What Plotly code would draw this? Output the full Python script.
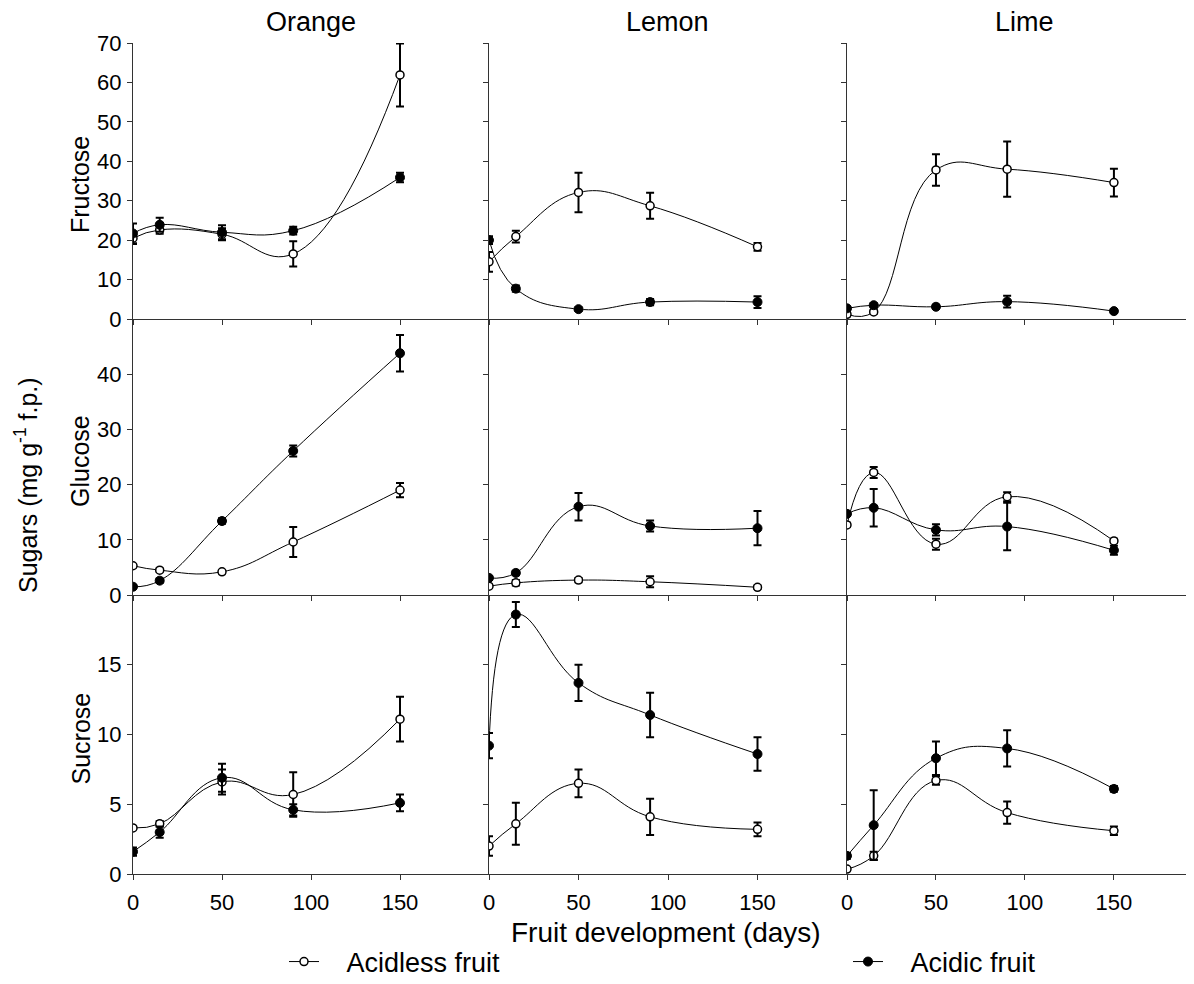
import plotly.graph_objects as go

# ---------------- data ----------------
days = [0, 15, 50, 90, 150]
fruits = ["Orange", "Lemon", "Lime"]
sugars = ["Fructose", "Glucose", "Sucrose"]

# Fructose
fru_orange_acidless = [20.5, 22.6, 21.5, 16.5, 61.9]
fru_orange_acidless_err = [1.5, 1.0, 1.5, 3.2, 8.0]
fru_orange_acidic = [21.7, 23.9, 22.0, 22.4, 35.9]
fru_orange_acidic_err = [2.5, 1.8, 1.8, 1.0, 1.2]
fru_lemon_acidless = [14.5, 20.9, 32.1, 28.7, 18.3]
fru_lemon_acidless_err = [2.5, 1.5, 5.0, 3.3, 1.0]
fru_lemon_acidic = [20.0, 7.7, 2.5, 4.3, 4.3]
fru_lemon_acidic_err = [1.0, 0.8, 0.4, 0.8, 1.5]
fru_lime_acidless = [1.2, 1.8, 37.8, 38.0, 34.6]
fru_lime_acidless_err = [0.5, 0.5, 4.0, 7.0, 3.5]
fru_lime_acidic = [2.7, 3.5, 3.1, 4.4, 2.0]
fru_lime_acidic_err = [0.5, 0.5, 0.5, 1.5, 0.4]

# Glucose
glu_orange_acidless = [5.3, 4.5, 4.2, 9.6, 19.0]
glu_orange_acidless_err = [0.3, 0.3, 0.3, 2.7, 1.3]
glu_orange_acidic = [1.5, 2.6, 13.4, 26.1, 43.8]
glu_orange_acidic_err = [0.3, 0.4, 0.5, 1.0, 3.3]
glu_lemon_acidless = [1.6, 2.2, 2.7, 2.4, 1.4]
glu_lemon_acidless_err = [0.3, 0.5, 0.4, 1.0, 0.3]
glu_lemon_acidic = [3.1, 4.0, 16.0, 12.5, 12.1]
glu_lemon_acidic_err = [0.3, 0.4, 2.5, 1.0, 3.1]
glu_lime_acidless = [12.7, 22.2, 9.2, 17.8, 9.8]
glu_lime_acidless_err = [0.4, 1.0, 1.0, 0.8, 0.4]
glu_lime_acidic = [14.7, 15.8, 11.8, 12.4, 8.1]
glu_lime_acidic_err = [0.4, 3.4, 1.0, 4.3, 0.8]

# Sucrose
suc_orange_acidless = [3.3, 3.6, 6.6, 5.7, 11.1]
suc_orange_acidless_err = [0.1, 0.2, 0.9, 1.6, 1.6]
suc_orange_acidic = [1.6, 3.0, 6.9, 4.6, 5.1]
suc_orange_acidic_err = [0.3, 0.4, 1.0, 0.4, 0.6]
suc_lemon_acidless = [2.0, 3.6, 6.5, 4.1, 3.2]
suc_lemon_acidless_err = [0.7, 1.5, 1.0, 1.3, 0.5]
suc_lemon_acidic = [9.2, 18.6, 13.7, 11.4, 8.6]
suc_lemon_acidic_err = [0.9, 0.9, 1.3, 1.6, 1.2]
suc_lime_acidless = [0.35, 1.3, 6.7, 4.4, 3.1]
suc_lime_acidless_err = [0.1, 0.3, 0.3, 0.8, 0.3]
suc_lime_acidic = [1.3, 3.5, 8.3, 9.0, 6.1]
suc_lime_acidic_err = [0.2, 2.5, 1.2, 1.3, 0.2]

x_ticks = [0, 50, 100, 150]
y_ticks = {"Fructose": [0, 10, 20, 30, 40, 50, 60, 70],
           "Glucose": [0, 10, 20, 30, 40],
           "Sucrose": [0, 5, 10, 15]}
y_ranges = {"Fructose": [0, 70], "Glucose": [0, 50], "Sucrose": [0, 20]}

series = {
    ("Fructose", "Orange"): (fru_orange_acidless, fru_orange_acidless_err, fru_orange_acidic, fru_orange_acidic_err),
    ("Fructose", "Lemon"): (fru_lemon_acidless, fru_lemon_acidless_err, fru_lemon_acidic, fru_lemon_acidic_err),
    ("Fructose", "Lime"): (fru_lime_acidless, fru_lime_acidless_err, fru_lime_acidic, fru_lime_acidic_err),
    ("Glucose", "Orange"): (glu_orange_acidless, glu_orange_acidless_err, glu_orange_acidic, glu_orange_acidic_err),
    ("Glucose", "Lemon"): (glu_lemon_acidless, glu_lemon_acidless_err, glu_lemon_acidic, glu_lemon_acidic_err),
    ("Glucose", "Lime"): (glu_lime_acidless, glu_lime_acidless_err, glu_lime_acidic, glu_lime_acidic_err),
    ("Sucrose", "Orange"): (suc_orange_acidless, suc_orange_acidless_err, suc_orange_acidic, suc_orange_acidic_err),
    ("Sucrose", "Lemon"): (suc_lemon_acidless, suc_lemon_acidless_err, suc_lemon_acidic, suc_lemon_acidic_err),
    ("Sucrose", "Lime"): (suc_lime_acidless, suc_lime_acidless_err, suc_lime_acidic, suc_lime_acidic_err),
}

# ---------------- layout geometry ----------------
OFF = 8                      # page body margin offset
W, H = 1194 - OFF, 984 - OFF  # figure size


def px(xp):  # page x pixel -> paper fraction
    return (xp - OFF) / W


def py(yp):  # page y pixel -> paper fraction
    return 1 - (yp - OFF) / H


col_px = [(133, 489), (489, 847), (847, 1194)]
col_xrange = [[0, 200], [0, 200], [0, 195]]
row_px = [(43, 319), (319, 595), (595, 874)]
FONT = "Liberation Sans, Arial, sans-serif"
AX = "#333333"
BIG = 27
TICK = 22

fig = go.Figure()
layout = dict(
    width=W, height=H,
    margin=dict(l=0, r=0, t=0, b=0, pad=0, autoexpand=False),
    paper_bgcolor="white", plot_bgcolor="white",
    font=dict(family=FONT, color="black", size=TICK),
)

annotations = []
idx = 0
for r, sugar in enumerate(sugars):
    for c, fruit in enumerate(fruits):
        idx += 1
        xa = "x" if idx == 1 else f"x{idx}"
        ya = "y" if idx == 1 else f"y{idx}"
        xkey = "xaxis" if idx == 1 else f"xaxis{idx}"
        ykey = "yaxis" if idx == 1 else f"yaxis{idx}"
        layout[xkey] = dict(
            domain=[px(col_px[c][0]), min(1.0, px(col_px[c][1]))],
            range=col_xrange[c], anchor=ya, automargin=False,
            showline=True, linecolor=AX, linewidth=1,
            ticks="outside", ticklen=5, tickcolor=AX,
            tickvals=x_ticks, showticklabels=(r == 2),
            ticklabelstandoff=4,
            showgrid=False, zeroline=False,
            tickfont=dict(size=TICK),
        )
        layout[ykey] = dict(
            domain=[py(row_px[r][1]), py(row_px[r][0])],
            range=y_ranges[sugar], anchor=xa, automargin=False,
            showline=True, linecolor=AX, linewidth=1,
            ticks="outside", ticklen=5, tickcolor=AX,
            tickvals=y_ticks[sugar], showticklabels=(c == 0),
            ticklabelstandoff=1,
            showgrid=False, zeroline=False,
            tickfont=dict(size=TICK),
        )
        a, ae, b, be = series[(sugar, fruit)]
        fig.add_trace(go.Scatter(
            x=days, y=a, xaxis=xa, yaxis=ya,
            mode="lines+markers", name="\u00a0\u00a0\u00a0Acidless fruit",
            line=dict(color="black", width=1, shape="spline", smoothing=1.25),
            marker=dict(symbol="circle", size=8, color="white",
                        line=dict(color="black", width=1.5)),
            error_y=dict(type="data", array=ae, visible=True,
                         color="black", thickness=2, width=4),
            showlegend=(idx == 1), legend="legend",
        ))
        fig.add_trace(go.Scatter(
            x=days, y=b, xaxis=xa, yaxis=ya,
            mode="lines+markers", name="\u00a0\u00a0\u00a0Acidic fruit",
            line=dict(color="black", width=1, shape="spline", smoothing=1.25),
            marker=dict(symbol="circle", size=9, color="black",
                        line=dict(color="black", width=1)),
            error_y=dict(type="data", array=be, visible=True,
                         color="black", thickness=2, width=4),
            showlegend=(idx == 1), legend="legend2",
        ))

# column titles
for c, fruit in enumerate(fruits):
    annotations.append(dict(text=fruit, x=px(col_px[c][0] + 178), y=py(22),
                            xref="paper", yref="paper", showarrow=False,
                            font=dict(size=BIG), xanchor="center", yanchor="middle"))
# row labels
for r, sugar in enumerate(sugars):
    cy = (row_px[r][0] + row_px[r][1]) / 2 + 4
    annotations.append(dict(text=sugar, x=px(80), y=py(cy), xref="paper", yref="paper",
                            showarrow=False, font=dict(size=25), textangle=-90,
                            xanchor="center", yanchor="middle"))
annotations.append(dict(text="Sugars (mg g<sup>-1</sup> f.p.)", x=px(26), y=py(485),
                        xref="paper", yref="paper", showarrow=False, font=dict(size=25),
                        textangle=-90, xanchor="center", yanchor="middle"))
annotations.append(dict(text="Fruit development (days)", x=px(666), y=py(932),
                        xref="paper", yref="paper", showarrow=False, font=dict(size=28),
                        xanchor="center", yanchor="middle"))
layout["annotations"] = annotations

layout["legend"] = dict(x=px(284), y=py(962), xanchor="left", yanchor="middle",
                        font=dict(size=BIG), bgcolor="rgba(0,0,0,0)", itemwidth=30)
layout["legend2"] = dict(x=px(848), y=py(962), xanchor="left", yanchor="middle",
                         font=dict(size=BIG), bgcolor="rgba(0,0,0,0)", itemwidth=30)

fig.update_layout(**layout)
fig.write_html("out.html")
